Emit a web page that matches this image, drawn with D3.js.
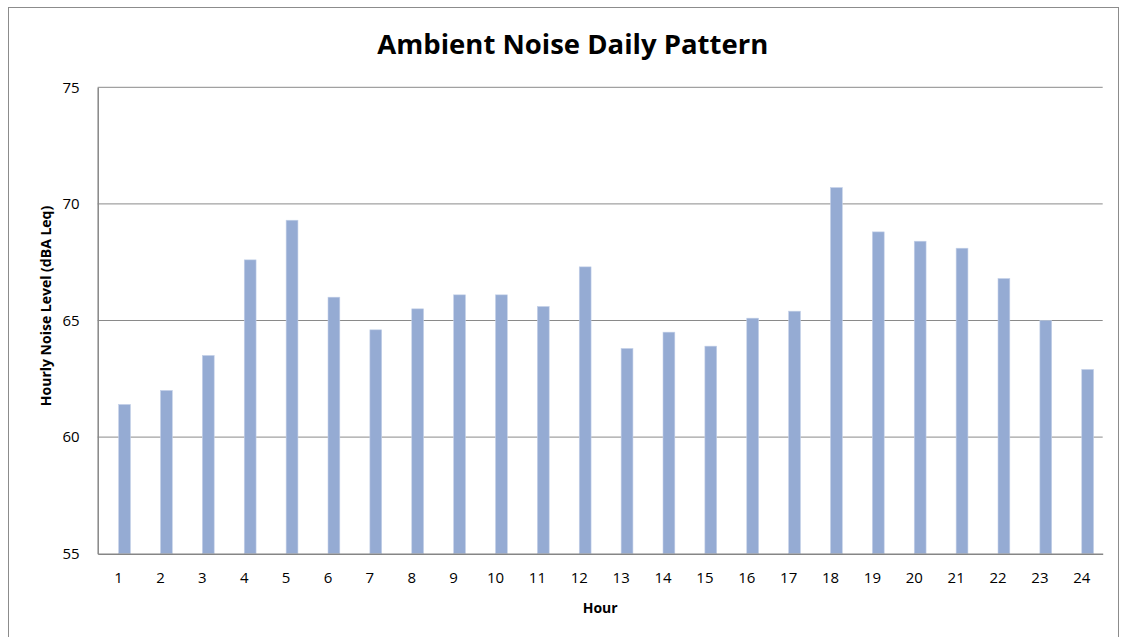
<!DOCTYPE html>
<html><head><meta charset="utf-8">
<script src="https://cdn.jsdelivr.net/npm/d3@7"></script>
<style>body{margin:0;background:#fff;} svg{display:block;}</style>
</head><body>
<script>
const hours = ["1","2","3","4","5","6","7","8","9","10","11","12","13","14","15","16","17","18","19","20","21","22","23","24"];
const noiseLevels = [61.4,62.0,63.5,67.6,69.3,66.0,64.6,65.5,66.1,66.1,65.6,67.3,63.8,64.5,63.9,65.1,65.4,70.7,68.8,68.4,68.1,66.8,65.0,62.9];
const yTicks = [55,60,65,70,75];
const titleText = "Ambient Noise Daily Pattern";
const xTitle = "Hour";
const yTitle = "Hourly Noise Level (dBA Leq)";

const W = 1125, H = 637;
const m = {left: 97.7, right: 1102.7, top: 87.3, bottom: 553.7};
const font = "'Open Sans', sans-serif";

const svg = d3.select("body").append("svg").attr("width", W).attr("height", H);
svg.append("rect").attr("x",8.5).attr("y",7.5).attr("width",1110).attr("height",640)
  .attr("fill","#fff").attr("stroke","#8c8c8c").attr("stroke-width",1);

const x = d3.scaleBand().domain(hours).range([m.left, m.right]).paddingInner(0).paddingOuter(0);
const y = d3.scaleLinear().domain([55,75]).range([m.bottom, m.top]);

// gridlines
svg.append("g").selectAll("line").data(yTicks.slice(1)).join("line")
  .attr("x1", m.left).attr("x2", m.right)
  .attr("y1", d=>y(d)).attr("y2", d=>y(d))
  .attr("stroke","#8a8a8a").attr("stroke-width",1);

// bars (offset: left edge at band centre, like a 2-series cluster)
const bw = 11.8;
svg.append("g").selectAll("rect").data(noiseLevels).join("rect")
  .attr("x", (d,i)=> x(hours[i]) + x.bandwidth()/2)
  .attr("y", d=>y(d))
  .attr("width", bw)
  .attr("height", d=> y(55)-y(d))
  .attr("fill","#95abd3")
  .attr("stroke","#c3d0e8").attr("stroke-width",0.6);

// axes
const yAxis = svg.append("g").attr("transform",`translate(${m.left},0)`)
  .call(d3.axisLeft(y).tickValues(yTicks).tickSize(0).tickPadding(18));
yAxis.select(".domain").attr("stroke","#868686").attr("stroke-width",1.5);
yAxis.selectAll("text").attr("font-family",font).attr("font-size",15).attr("fill","#000");

const xAxis = svg.append("g").attr("transform",`translate(0,${m.bottom})`)
  .call(d3.axisBottom(x).tickSize(0).tickPadding(19));
xAxis.select(".domain").attr("stroke","#868686").attr("stroke-width",1.5);
xAxis.selectAll("text").attr("font-family",font).attr("font-size",15).attr("fill","#000");

// titles
const t = svg.append("text").attr("x",572.8).attr("y",54).attr("text-anchor","middle")
  .attr("font-family",font).attr("font-weight","bold").attr("font-size",25).attr("fill","#000")
  .text(titleText);
const tl = t.node().getComputedTextLength();
if (tl > 0) t.attr("font-size", 25*391/tl);
svg.append("text").attr("x",(m.left+m.right)/2).attr("y",613).attr("text-anchor","middle")
  .attr("font-family",font).attr("font-weight","bold").attr("font-size",14).attr("fill","#000")
  .text(xTitle);
svg.append("text").attr("transform","translate(51,306) rotate(-90)").attr("text-anchor","middle")
  .attr("font-family",font).attr("font-weight","bold").attr("font-size",14).attr("fill","#000")
  .text(yTitle);
</script>
</body></html>
